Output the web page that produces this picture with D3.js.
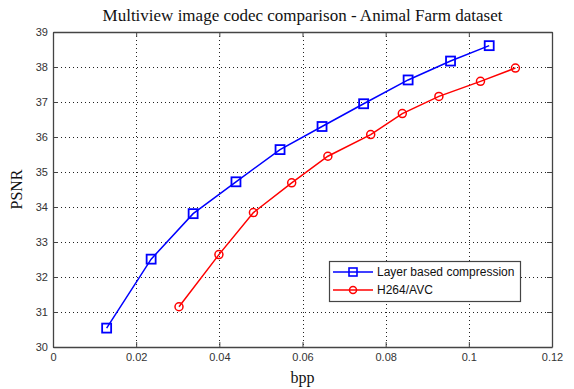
<!DOCTYPE html>
<html><head><meta charset="utf-8">
<script src="https://cdn.jsdelivr.net/npm/d3@7"></script>
<style>body{margin:0;background:#fff}svg{display:block}</style>
</head><body>
<script>
const title = "Multiview image codec comparison - Animal Farm dataset";
const xLabel = "bpp", yLabel = "PSNR";
const xTicks = [0, 0.02, 0.04, 0.06, 0.08, 0.1, 0.12];
const yTicks = [30, 31, 32, 33, 34, 35, 36, 37, 38, 39];
const seriesNames = ["Layer based compression", "H264/AVC"];
const layerBpp  = [0.0129, 0.0236, 0.0337, 0.0440, 0.0546, 0.0647, 0.0747, 0.0854, 0.0956, 0.1049];
const layerPsnr = [30.54, 32.51, 33.81, 34.72, 35.64, 36.30, 36.95, 37.63, 38.17, 38.61];
const h264Bpp   = [0.0303, 0.0399, 0.0482, 0.0574, 0.0661, 0.0764, 0.0840, 0.0928, 0.1028, 0.1112];
const h264Psnr  = [31.15, 32.64, 33.84, 34.69, 35.45, 36.07, 36.67, 37.16, 37.59, 37.97];

const W = 574, H = 389;
const L = 53, R = 552, T = 32, B = 347;
const svg = d3.select("body").append("svg").attr("width", W).attr("height", H);
const x = d3.scaleLinear().domain([0, 0.12]).range([L, R]);
const y = d3.scaleLinear().domain([30, 39]).range([B, T]);
const axisCol = "#444";

// grid
const g = svg.append("g");
g.selectAll(".vg").data(xTicks.slice(1, -1)).join("line")
  .attr("x1", d => Math.round(x(d)) + 0.5).attr("x2", d => Math.round(x(d)) + 0.5)
  .attr("y1", T).attr("y2", B).attr("stroke", "#222").attr("stroke-width", 1).attr("stroke-dasharray", "1,3");
g.selectAll(".hg").data(yTicks.slice(1, -1)).join("line")
  .attr("y1", d => Math.round(y(d)) + 0.5).attr("y2", d => Math.round(y(d)) + 0.5)
  .attr("x1", L).attr("x2", R).attr("stroke", "#222").attr("stroke-width", 1).attr("stroke-dasharray", "1,3");

// axes
const fmtX = d => d === 0 ? "0" : String(+d.toFixed(2));
const axB = svg.append("g").attr("transform", `translate(0,${B})`)
  .call(d3.axisBottom(x).tickValues(xTicks).tickFormat(fmtX).tickSizeInner(-5).tickSizeOuter(0).tickPadding(6));
const axT = svg.append("g").attr("transform", `translate(0,${T})`)
  .call(d3.axisTop(x).tickValues(xTicks).tickFormat("").tickSizeInner(-5).tickSizeOuter(0));
const axL = svg.append("g").attr("transform", `translate(${L},0)`)
  .call(d3.axisLeft(y).tickValues(yTicks).tickSizeInner(-5).tickSizeOuter(0).tickPadding(5));
const axR = svg.append("g").attr("transform", `translate(${R},0)`)
  .call(d3.axisRight(y).tickValues(yTicks).tickFormat("").tickSizeInner(-5).tickSizeOuter(0));
[axB, axT, axL, axR].forEach(a => {
  a.select(".domain").attr("stroke", axisCol).attr("stroke-width", 1.3);
  a.selectAll(".tick line").attr("stroke", axisCol);
  a.selectAll("text").attr("font-family", "Liberation Sans, Arial, sans-serif")
    .attr("font-size", 11).attr("fill", "#333");
});

// lines
const line = d3.line().x(d => x(d[0])).y(d => y(d[1]));
const layer = layerBpp.map((b, i) => [b, layerPsnr[i]]);
const h264 = h264Bpp.map((b, i) => [b, h264Psnr[i]]);
svg.append("path").datum(layer).attr("d", line).attr("fill", "none").attr("stroke", "#0000ff").attr("stroke-width", 1.5);
svg.append("path").datum(h264).attr("d", line).attr("fill", "none").attr("stroke", "#ff0000").attr("stroke-width", 1.5);
svg.selectAll(".sq").data(layer).join("rect")
  .attr("x", d => x(d[0]) - 4.5).attr("y", d => y(d[1]) - 4.5).attr("width", 9).attr("height", 9)
  .attr("fill", "none").attr("stroke", "#0000ff").attr("stroke-width", 1.8);
svg.selectAll(".ci").data(h264).join("circle")
  .attr("cx", d => x(d[0])).attr("cy", d => y(d[1])).attr("r", 4)
  .attr("fill", "none").attr("stroke", "#ff0000").attr("stroke-width", 1.5);

// legend
const lg = svg.append("g");
lg.append("rect").attr("x", 329.5).attr("y", 261.5).attr("width", 191).attr("height", 40)
  .attr("fill", "#fff").attr("stroke", axisCol).attr("stroke-width", 1.2);
const rows = [{c: "#0000ff", m: "sq"}, {c: "#ff0000", m: "ci"}];
rows.forEach((r, i) => {
  const yy = 272 + i * 18;
  lg.append("line").attr("x1", 333).attr("x2", 373).attr("y1", yy).attr("y2", yy)
    .attr("stroke", r.c).attr("stroke-width", 1.5);
  if (r.m === "sq") lg.append("rect").attr("x", 353 - 4).attr("y", yy - 4).attr("width", 8).attr("height", 8)
    .attr("fill", "none").attr("stroke", r.c).attr("stroke-width", 1.6);
  else lg.append("circle").attr("cx", 353).attr("cy", yy).attr("r", 3.5)
    .attr("fill", "none").attr("stroke", r.c).attr("stroke-width", 1.5);
  lg.append("text").attr("x", 377).attr("y", yy + 4).text(seriesNames[i])
    .attr("font-family", "Liberation Sans, Arial, sans-serif").attr("font-size", 12).attr("fill", "#111");
});

// labels
svg.append("text").attr("x", (L + R) / 2).attr("y", 21).attr("text-anchor", "middle")
  .attr("font-family", "Liberation Serif, DejaVu Serif, serif").attr("font-size", 17).attr("fill", "#111").text(title);
svg.append("text").attr("x", (L + R) / 2).attr("y", 383).attr("text-anchor", "middle")
  .attr("font-family", "Liberation Serif, DejaVu Serif, serif").attr("font-size", 16).attr("fill", "#111").text(xLabel);
svg.append("text").attr("transform", `translate(22,${(T + B) / 2}) rotate(-90)`).attr("text-anchor", "middle")
  .attr("font-family", "Liberation Serif, DejaVu Serif, serif").attr("font-size", 16).attr("fill", "#111").text(yLabel);
</script>
</body></html>
